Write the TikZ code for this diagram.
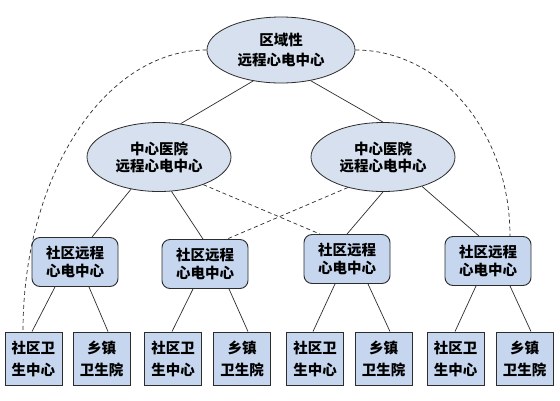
\documentclass[tikz,border=0pt]{standalone}
\usepackage{fontspec}
\setmainfont{Noto Sans CJK SC}
\usetikzlibrary{calc,shapes.geometric}
\definecolor{ellfill}{RGB}{214,224,238}
\definecolor{boxfill}{RGB}{197,214,238}
\definecolor{edgecol}{RGB}{45,45,45}
\begin{document}
\begin{tikzpicture}[x=1pt,y=-1pt,
  ell/.style={ellipse, draw=edgecol, fill=ellfill, line width=0.8pt, inner sep=0pt, align=center},
  topell/.style={ell, minimum width=148pt, minimum height=66pt, font=\bfseries\fontsize{14.5}{20}\selectfont},
  midell/.style={ell, minimum width=144pt, minimum height=69pt, font=\bfseries\fontsize{14.5}{17}\selectfont},
  rbox/.style={rectangle, rounded corners=8pt, draw=edgecol, fill=boxfill, line width=0.9pt, inner sep=0pt, minimum width=86pt, minimum height=49pt, align=center, font=\bfseries\fontsize{14.5}{18}\selectfont},
  bbox/.style={rectangle, draw=edgecol, fill=boxfill, line width=0.9pt, inner sep=0pt, minimum width=57pt, minimum height=53pt, align=center, font=\bfseries\fontsize{14.5}{22}\selectfont},
  conn/.style={draw=edgecol, line width=0.7pt},
  dconn/.style={conn, dash pattern=on 4pt off 3pt}]
\useasboundingbox[fill=white] (0,0) rectangle (560,400);
% nodes
\node[topell] (top) at (281,50) {区域性\\远程心电中心};
\node[midell] (ml) at (159,157) {中心医院\\远程心电中心};
\node[midell] (mr) at (383,157) {中心医院\\远程心电中心};
\node[rbox] (r1) at (75,262) {社区远程\\心电中心};
\node[rbox] (r2) at (205,264) {社区远程\\心电中心};
\node[rbox] (r3) at (347,259) {社区远程\\心电中心};
\node[rbox] (r4) at (488,261) {社区远程\\心电中心};
\node[bbox] (b1) at (33.5,358.5) {社区卫\\生中心};
\node[bbox] (b2) at (101.5,358.5) {乡镇\\卫生院};
\node[bbox] (b3) at (173,358.5) {社区卫\\生中心};
\node[bbox] (b4) at (242,358.5) {乡镇\\卫生院};
\node[bbox] (b5) at (315,358.5) {社区卫\\生中心};
\node[bbox] (b6) at (383.5,358.5) {乡镇\\卫生院};
\node[bbox] (b7) at (455.5,358.5) {社区卫\\生中心};
\node[bbox] (b8) at (524.5,358.5) {乡镇\\卫生院};
% solid connectors
\draw[conn] (top.228) -- (ml.57);
\draw[conn] (top.314) -- (mr.90);
\draw[conn] (ml.229) -- ([xshift=17pt]r1.north);
\draw[conn] (ml.290) -- ([xshift=-2pt]r2.north);
\draw[conn] (mr.270) -- (r3.north);
\draw[conn] (mr.323) -- ([xshift=-9pt]r4.north);
\draw[conn] ([xshift=-20pt]r1.south) -- ([xshift=-1.5pt]b1.north);
\draw[conn] ([xshift=14pt]r1.south) -- ([xshift=6.5pt]b2.north);
\draw[conn] ([xshift=-12pt]r2.south) -- ([xshift=-1pt]b3.north);
\draw[conn] ([xshift=24pt]r2.south) -- ([xshift=6pt]b4.north);
\draw[conn] ([xshift=-12pt]r3.south) -- ([xshift=-2pt]b5.north);
\draw[conn] ([xshift=21pt]r3.south) -- ([xshift=6.5pt]b6.north);
\draw[conn] ([xshift=-12pt]r4.south) -- ([xshift=-0.5pt]b7.north);
\draw[conn] ([xshift=22pt]r4.south) -- ([xshift=6.5pt]b8.north);
% dashed connectors
\draw[dconn] (ml.328) -- ([xshift=-27pt]r3.north);
\draw[dconn] (mr.221) -- ([xshift=22pt]r2.north);
\draw[dconn] (top.west) .. controls +(-102,0) and +(0,-156) .. ([xshift=-10.5pt]b1.north);
\draw[dconn] (top.east) .. controls +(86,0) and +(0,-103) .. ([xshift=22pt]r4.north);
\end{tikzpicture}
\end{document}
